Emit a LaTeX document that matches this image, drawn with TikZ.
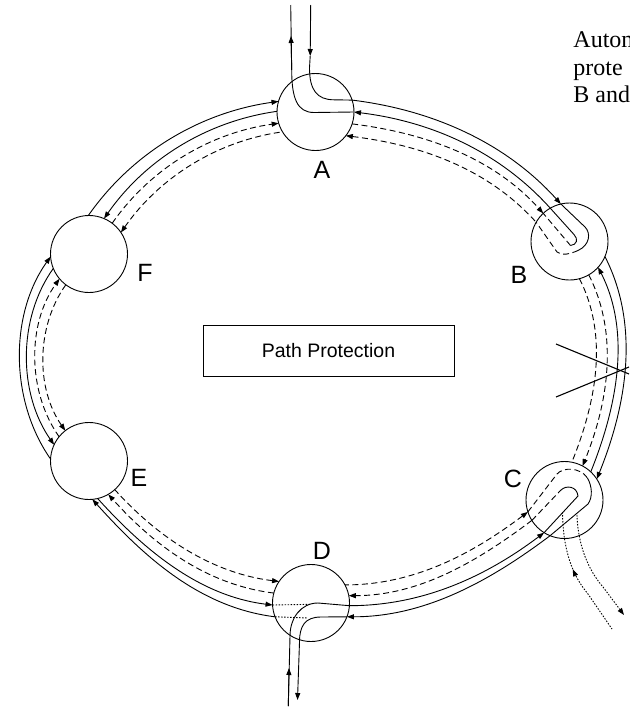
\documentclass[tikz,border=0pt]{standalone}
\usepackage{fontspec}
\setmainfont{Liberation Serif}
\newfontfamily\arialf{Liberation Sans}
\usetikzlibrary{arrows.meta,decorations.markings}
\begin{document}
\begin{tikzpicture}[x=1pt,y=1pt,line width=0.9pt,
  >={Triangle[length=7pt,width=5pt]},
  stn/.style={circle,draw,minimum size=77pt,inner sep=0pt,outer sep=0pt},
  lbl/.style={inner sep=0pt,font=\arialf\fontsize{25}{25}\selectfont},
  pr/.style={dash pattern=on 6pt off 3.5pt},
  dt/.style={dash pattern=on 1.5pt off 1.5pt},
  cut/.style={line width=1.1pt},
  sFA/.style={out=55,in=188,looseness=0.9},
  sAB/.style={out=-7,in=132,looseness=0.9},
  sBC/.style={out=-63,in=68,looseness=0.9},
  sCD/.style={out=-143,in=0,looseness=0.9},
  sDE/.style={out=173,in=-48,looseness=0.9},
  sEF/.style={out=125,in=-125.5,looseness=0.9},
  midrev/.style={postaction={decorate},decoration={markings,mark=at position #1 with {\arrowreversed{Triangle[length=7pt,width=5pt]}}}},
]
\begin{scope}[yscale=-1]
\useasboundingbox (0,0) rectangle (629,707);
% stations
\node[stn] (A) at (315.5,112) {};
\node[stn] (B) at (569.5,241.5) {};
\node[stn] (C) at (564.5,500) {};
\node[stn] (D) at (311,603) {};
\node[stn] (E) at (89,461) {};
\node[stn] (F) at (89,254) {};
% labels
\node[lbl] (lA) at (322,170) {A};
\node[lbl] (lB) at (519,274.5) {B};
\node[lbl] (lC) at (513,479) {C};
\node[lbl] (lD) at (322,551) {D};
\node[lbl] (lE) at (139,478) {E};
\node[lbl] (lF) at (145,272.5) {F};
% box
\node[draw,minimum width=251pt,minimum height=51.5pt,inner sep=0pt,
  font=\arialf\fontsize{19.5}{19.5}\selectfont] (pp) at (328.5,350.8) {Path Protection};
% clipped text
\begin{scope}
\clip (0,0) rectangle (629,707);
\node[anchor=base west,inner sep=0pt,font=\fontsize{24}{24}\selectfont] (t1) at (573,47) {Autom};
\node[anchor=base west,inner sep=0pt,font=\fontsize{24}{24}\selectfont] (t2) at (573,75) {prote};
\node[anchor=base west,inner sep=0pt,font=\fontsize{24}{24}\selectfont] (t3) at (573,102) {B and};
\end{scope}
% coordinates at A
\coordinate (aUtop) at (290.7,5);
\coordinate (aUarr) at (291,36);
\coordinate (aUbend) at (291.7,70);
\coordinate (aUin) at (314,112.5);
\coordinate (aDtop) at (310.7,5);
\coordinate (aDarr) at (310.2,56);
\coordinate (aDbend) at (309.5,68);
\coordinate (aDin) at (334,99.8);
\draw (A.0) -- (aUin) .. controls +(-17,0) and +(0,28) .. (aUbend) -- (aUtop);
\draw[->] (aUbend) -- (aUarr);
\draw[->] (aDtop) -- (aDarr);
\draw (aDarr) -- (aDbend) .. controls +(0,22) and +(-17,0) .. (aDin) -- (A.18.6);
% B loopback
\coordinate (bS1) at (585,227);
\coordinate (bM1) at (578,250.5);
\coordinate (bD4) at (557,252);
\coordinate (bS2) at (574,234.5);
\coordinate (bM2) at (570.5,245.5);
\draw (B.103) -- (bS1) .. controls (591,233) and (590,245) .. (bM1);
\draw[pr] (bM1) .. controls (570,254) and (562,256) .. (bD4) -- (B.150.4);
\draw (B.120.4) -- (bS2) .. controls (578.5,239) and (577,245) .. (bM2);
\draw[pr] (bM2) -- (B.133);
% C loopback
\coordinate (cD4) at (557,474);
\coordinate (cM1) at (587.5,478);
\coordinate (cS1) at (588,504);
\coordinate (cD3) at (561,490);
\coordinate (cS2) at (578,496);
\draw[pr] (C.198.6) -- (cD4) .. controls (563,467) and (580,467) .. (cM1);
\draw (cM1) .. controls (592,486) and (593,497) .. (cS1) -- (C.248.4);
\draw[pr] (C.212) -- (cD3);
\draw (cD3) .. controls (566,485) and (577,486) .. (cS2) -- (C.238.2);
% C dotted add/drop
\coordinate (cT1) at (562.5,512);
\coordinate (cT1b) at (588,594);
\coordinate (cT1e) at (612,629);
\coordinate (cT2) at (577,515);
\coordinate (cT2b) at (603,587);
\coordinate (cT2e) at (624,615);
\draw[dt,midrev=0.45] (cT1) .. controls (563,550) and (572,575) .. (cT1b) -- (cT1e);
\draw[dt,->] (cT2) .. controls (578,548) and (590,572) .. (cT2b) -- (cT2e);
% D add/drop
\coordinate (dUbot) at (288.3,706);
\coordinate (dUarr) at (289,668);
\coordinate (dUbend) at (290,636);
\coordinate (dUin) at (318,603);
\coordinate (dDbot) at (297.5,700);
\coordinate (dDbend) at (299.5,642);
\coordinate (dDin) at (321,617);
\coordinate (dDot1) at (311,604.3);
\coordinate (dDot2) at (308,618);
\draw (dUbot) -- (dUbend) .. controls +(0,-18) and +(-17,0) .. (dUin) -- (D.-4);
\draw[->] (dUbot) -- (dUarr);
\draw[->] (D.-21.5) -- (dDin) .. controls +(-16,0) and +(0,-16) .. (dDbend) -- (dDbot);
\draw[dt] (D.183) -- (dDot1);
\draw[dt] (D.201.7) -- (dDot2);
% fibre cut
\coordinate (xc1) at (556,344);
\coordinate (xc2) at (629,374);
\coordinate (xc3) at (556,397);
\coordinate (xc4) at (629,367);
\draw[cut] (xc1) -- (xc2);
\draw[cut] (xc3) -- (xc4);
\end{scope}
% ring segments F-A
\draw[->] (F.91) to[sFA] (A.164.5);
\draw[<-] (F.67.7) to[sFA] (A.179);
\draw[pr,->] (F.53) to[sFA] (A.197);
\draw[pr,<-] (F.34.3) to[sFA] (A.211);
% A-B
\draw[->] (A.18.6) to[sAB] (B.103);
\draw[<-] (A.0) to[sAB] (B.120.4);
\draw[pr,->] (A.-18) to[sAB] (B.133);
\draw[pr,<-] (A.-38) to[sAB] (B.150.4);
% B-C
\draw[->] (B.-23.4) to[sBC] (C.33.9);
\draw[<-] (B.-42.1) to[sBC] (C.47.5);
\draw[pr,->] (B.-60) to[sBC] (C.62.9);
\draw[pr] (B.-75.4) to[sBC] (C.79.4);
% C-D
\draw[->] (C.248.4) to[sCD] (D.-21.5);
\draw[<-] (C.238.2) to[sCD] (D.-4.1);
\draw[pr,->] (C.212) to[sCD] (D.11.6);
\draw[pr,<-] (C.198.6) to[sCD] (D.28.9);
% D-E
\draw[->] (D.201.7) to[sDE] (E.-85);
\draw[<-] (D.183) to[sDE] (E.-77);
\draw[pr,->] (D.165) to[sDE] (E.-60.8);
\draw[pr,<-] (D.146) to[sDE] (E.-48);
% E-F
\draw[->] (E.177.5) to[sEF] (F.184);
\draw[<-] (E.155.2) to[sEF] (F.202.9);
\draw[pr,->] (E.141) to[sEF] (F.220.6);
\draw[pr,<-] (E.128) to[sEF] (F.233.2);
\end{tikzpicture}
\end{document}
